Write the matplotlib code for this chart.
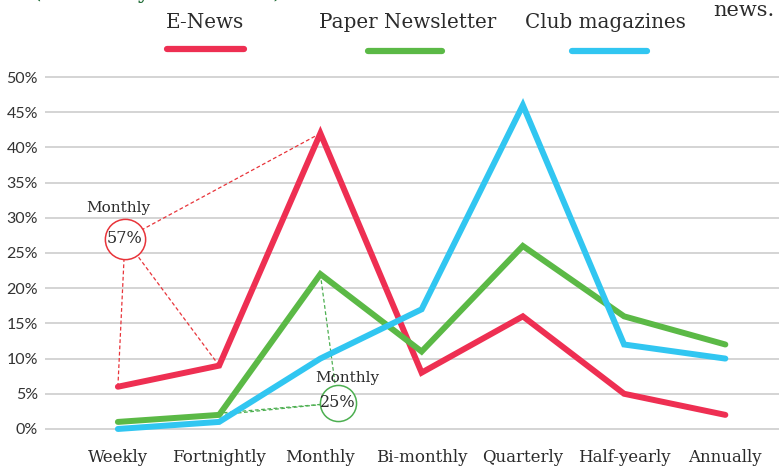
import matplotlib

matplotlib.use("Agg")

import matplotlib.pyplot as plt
from matplotlib.lines import Line2D

# Share of readers preferring each publication frequency, per channel (%)
periods = ["Weekly", "Fortnightly", "Monthly", "Bi-monthly", "Quarterly", "Half-yearly", "Annually"]
e_news = [6, 9, 42, 8, 16, 5, 2]
paper_newsletter = [1, 2, 22, 11, 26, 16, 12]
club_magazines = [0, 1, 10, 17, 46, 12, 10]
series_names = ["E-News", "Paper Newsletter", "Club magazines"]
y_ticks = [0, 5, 10, 15, 20, 25, 30, 35, 40, 45, 50]

RED = "#EE2F52"
GREEN = "#5BB946"
BLUE = "#31C6F1"
TEXT = "#2b2b2b"
SERIF = ["DejaVu Serif Condensed", "DejaVu Serif"]

W, H = 779, 466


def fx(px):
    return px / W


def fy(py):
    return 1 - py / H


fig = plt.figure(figsize=(W / 100, H / 100), dpi=100)
ax = fig.add_axes([fx(45), fy(436), fx(779) - fx(45), fy(70) - fy(436)])

x = list(range(len(periods)))
series = [e_news, paper_newsletter, club_magazines]
colors = [RED, GREEN, BLUE]

for values, color in zip(series, colors):
    ax.plot(x, values, color=color, lw=4.3, solid_capstyle="round",
            solid_joinstyle="miter", zorder=3)

ax.set_xlim(-0.72, 6.53)
ax.set_ylim(-1.0, 51.0)
ax.set_yticks(y_ticks)
ax.set_yticklabels([f"{t}%" for t in y_ticks], family="Lato", fontsize=11.5, color="#333333")
ax.set_xticks(x)
ax.set_xticklabels(periods, family=SERIF, fontsize=12, color=TEXT)
ax.tick_params(axis="both", length=0)
ax.tick_params(axis="y", pad=5)
ax.tick_params(axis="x", pad=9)
ax.grid(axis="y", color="#d4d4d4", lw=1.4, zorder=0)
for side in ax.spines.values():
    side.set_visible(False)


def bubble(values, n, color, cx, cy, label_xy, size):
    # dashed leaders from the first n points into a circled total
    for i in range(n):
        ax.plot([i, cx], [values[i], cy], color=color, lw=0.9, ls=(0, (3, 2)), zorder=2)
    ax.plot([cx], [cy], marker="o", ms=size, mfc="white", mec=color, mew=1.1, zorder=2.5)
    ax.text(cx, cy, f"{sum(values[:n]):.0f}%", ha="center", va="center",
            family=SERIF, fontsize=11.5, color=TEXT, zorder=4)
    ax.text(label_xy[0], label_xy[1], "Monthly", ha="center", va="center",
            family=SERIF, fontsize=11, color=TEXT, zorder=4)


bubble(e_news, 3, "#E8343A", 0.07, 27.0, (0.0, 31.4), 29)
bubble(paper_newsletter, 3, "#4CAF50", 2.17, 3.7, (2.27, 7.3), 26)

# legend row across the top
legend_items = [(205, 167, 244, 49), (408, 368, 442, 51), (605, 572, 647, 51)]
for name, color, (tx, x0, x1, ly) in zip(series_names, colors, legend_items):
    fig.text(fx(tx), fy(22), name, ha="center", va="center", family=SERIF,
             fontsize=14.3, color=TEXT)
    fig.add_artist(Line2D([fx(x0), fx(x1)], [fy(ly), fy(ly)], color=color, lw=4.5,
                          solid_capstyle="round", transform=fig.transFigure))

fig.text(fx(33), fy(-2), "(Currently rated best)", ha="left", va="baseline",
         family=SERIF, fontsize=16, color="#1E6B35")
fig.text(fx(713), fy(10), "news.", ha="left", va="center", family=SERIF,
         fontsize=15, color=TEXT)

fig.savefig("out.png", dpi=100)
